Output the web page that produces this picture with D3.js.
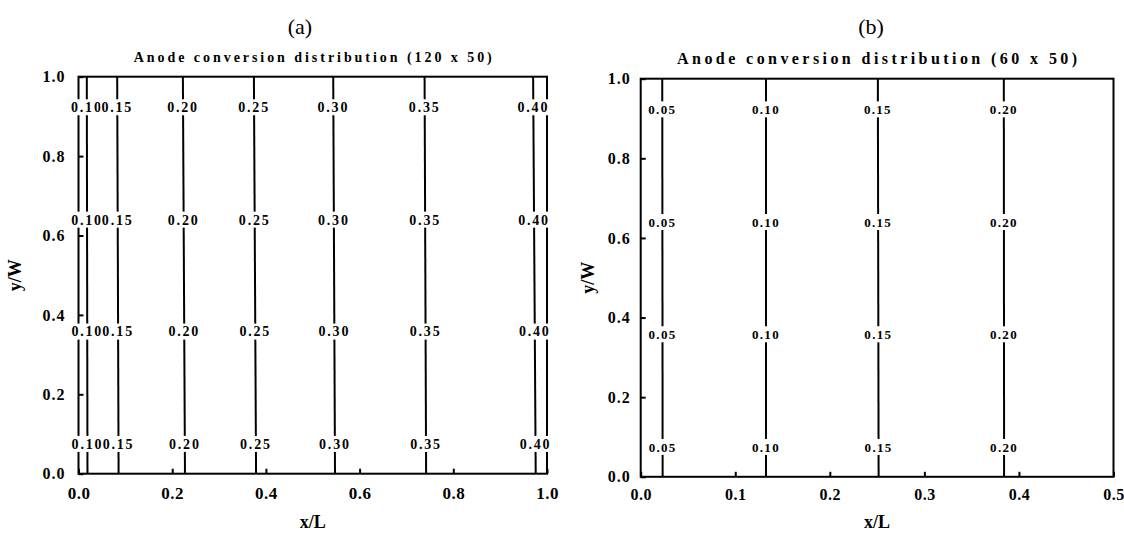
<!DOCTYPE html>
<html>
<head>
<meta charset="utf-8">
<script src="https://cdn.jsdelivr.net/npm/d3@7"></script>
<style>
  body { margin: 0; background: #fff; }
  svg { display: block; }
  text { font-family: "Liberation Serif", "Times New Roman", serif; fill: #000; }
</style>
</head>
<body>
<div id="chart"></div>
<script>
// tick values
const yTicks = [0, 0.2, 0.4, 0.6, 0.8, 1.0];
const xTicksA = [0, 0.2, 0.4, 0.6, 0.8, 1.0];
const xTicksB = [0, 0.1, 0.2, 0.3, 0.4, 0.5];

// contour levels of panel (a), x/L where each line meets y/W = 0 and y/W = 1
const levelsA = ['0.10', '0.15', '0.20', '0.25', '0.30', '0.35', '0.40'];
const xBottomA = [0.0192, 0.0856, 0.2273, 0.3790, 0.5475, 0.7420, 0.9759];
const xTopA = [0.0177, 0.0826, 0.2228, 0.3744, 0.5437, 0.7387, 0.9704];

// contour levels of panel (b)
const levelsB = ['0.05', '0.10', '0.15', '0.20'];
const xBottomB = [0.0232, 0.1325, 0.2516, 0.3843];
const xTopB = [0.0228, 0.1325, 0.2508, 0.3840];

// y/W rows where the contour labels sit
const labelRows = [0.075, 0.358, 0.64, 0.923];

const svg = d3.select('#chart')
  .append('svg')
  .attr('width', 1124)
  .attr('height', 533);

svg.append('rect').attr('width', 1124).attr('height', 533).attr('fill', '#fff');

const drawPanel = (cfg) => {
  const {left, right, top, bottom, xMax, xTicks, levels, xBottom, xTop} = cfg;

  const x = d3.scaleLinear().domain([0, xMax]).range([left, right]);
  const y = d3.scaleLinear().domain([0, 1]).range([bottom, top]);

  const g = svg.append('g');

  // panel letter and title
  g.append('text')
    .attr('x', cfg.letterX)
    .attr('y', 26)
    .attr('dy', '0.35em')
    .attr('text-anchor', 'middle')
    .style('font-size', '22px')
    .text(cfg.letter);

  g.append('text')
    .attr('x', (left + right) / 2)
    .attr('y', cfg.titleY)
    .attr('dy', '0.35em')
    .attr('text-anchor', 'middle')
    .attr('textLength', cfg.titleWidth)
    .attr('lengthAdjust', 'spacing')
    .style('font-size', cfg.titleSize + 'px')
    .style('font-weight', 'bold')
    .text(cfg.title);

  // axes with inward ticks
  const xAxis = g.append('g')
    .attr('transform', `translate(0,${bottom})`)
    .call(d3.axisBottom(x).tickValues(xTicks).tickSizeInner(-5).tickSizeOuter(0)
      .tickPadding(cfg.xPad).tickFormat(d3.format('.1f')));

  const yAxis = g.append('g')
    .attr('transform', `translate(${left},0)`)
    .call(d3.axisLeft(y).tickValues(yTicks).tickSizeInner(-5).tickSizeOuter(0)
      .tickPadding(cfg.yPad).tickFormat(d3.format('.1f')));

  [xAxis, yAxis].forEach((ax) => {
    ax.select('.domain').remove();
    ax.selectAll('.tick line').attr('stroke', '#000').attr('stroke-width', 2);
    ax.selectAll('.tick text')
      .style('font-family', '"Liberation Serif", serif')
      .style('font-weight', 'bold')
      .style('fill', '#000');
  });
  xAxis.selectAll('.tick text').style('font-size', cfg.xTickSize + 'px').style('letter-spacing', '0.5px');
  yAxis.selectAll('.tick text').style('font-size', '16px').style('letter-spacing', '1px');

  // frame
  g.append('rect')
    .attr('x', left)
    .attr('y', top)
    .attr('width', right - left)
    .attr('height', bottom - top)
    .attr('fill', 'none')
    .attr('stroke', '#000')
    .attr('stroke-width', 2);

  // contour lines
  const line = d3.line().x((d) => x(d.x)).y((d) => y(d.y));
  const contours = levels.map((lv, i) => ({
    level: lv,
    pts: [{x: xBottom[i], y: 0}, {x: xTop[i], y: 1}],
  }));

  g.selectAll('path.contour')
    .data(contours)
    .join('path')
    .attr('class', 'contour')
    .attr('d', (d) => line(d.pts))
    .attr('fill', 'none')
    .attr('stroke', '#000')
    .attr('stroke-width', 2);

  // inline labels with a white patch that breaks the line
  contours.forEach((c) => {
    labelRows.forEach((r) => {
      const lx = x(c.pts[0].x + (c.pts[1].x - c.pts[0].x) * r);
      const ly = y(r);
      const lg = g.append('g').attr('transform', `translate(${lx},${ly})`);
      const t = lg.append('text')
        .attr('text-anchor', 'middle')
        .attr('dy', '0.35em')
        .style('font-size', cfg.labelSize + 'px')
        .style('font-weight', 'bold')
        .style('letter-spacing', cfg.labelSpacing + 'px')
        .text(c.level);
      const bb = t.node().getBBox();
      lg.insert('rect', 'text')
        .attr('x', bb.x - 1)
        .attr('y', -8)
        .attr('width', bb.width + 1)
        .attr('height', 16)
        .attr('fill', '#fff');
    });
  });

  // axis titles
  g.append('text')
    .attr('x', (left + right) / 2)
    .attr('y', 522)
    .attr('dy', '0.35em')
    .attr('text-anchor', 'middle')
    .style('font-size', '18px')
    .style('font-weight', 'bold')
    .text('x/L');

  g.append('text')
    .attr('transform', `translate(${cfg.yLabelX},${(top + bottom) / 2}) rotate(-90)`)
    .attr('dy', '0.35em')
    .attr('text-anchor', 'middle')
    .style('font-size', '18px')
    .style('font-weight', 'bold')
    .text('y/W');
};

drawPanel({
  left: 78.5, right: 547, top: 76.7, bottom: 473.7, xMax: 1,
  xTicks: xTicksA, levels: levelsA, xBottom: xBottomA, xTop: xTopA,
  letter: '(a)', letterX: 300, title: 'Anode conversion distribution (120 x 50)',
  titleY: 57, titleSize: 14, titleWidth: 358,
  xPad: 13, yPad: 13, xTickSize: 17, labelSize: 14, labelSpacing: 1.8, yLabelX: 15,
});

drawPanel({
  left: 640.7, right: 1113.5, top: 78.7, bottom: 476.8, xMax: 0.5,
  xTicks: xTicksB, levels: levelsB, xBottom: xBottomB, xTop: xTopB,
  letter: '(b)', letterX: 871, title: 'Anode conversion distribution (60 x 50)',
  titleY: 58, titleSize: 16, titleWidth: 400,
  xPad: 12, yPad: 10, xTickSize: 16, labelSize: 13, labelSpacing: 1.3, yLabelX: 588,
});
</script>
</body>
</html>
